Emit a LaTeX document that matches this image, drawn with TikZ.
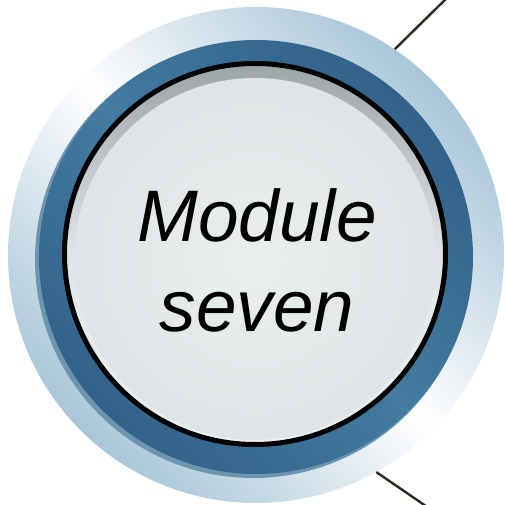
\documentclass[tikz,border=0pt]{standalone}
\usepackage{fontspec}
\setmainfont{Liberation Sans}
\usepackage{xcolor}
\usetikzlibrary{positioning}

\definecolor{rimblue}{HTML}{A9C6D8}
\definecolor{ringdark}{HTML}{32628A}
\definecolor{ringlight}{HTML}{437BA1}
\definecolor{ringedge}{HTML}{6E95B0}
\definecolor{facetop}{HTML}{9EA5A7}
\definecolor{facemid}{HTML}{DFE5E6}
\definecolor{facelow}{HTML}{EEF2F2}
\definecolor{leader}{HTML}{2A2A1E}

\begin{document}
\begin{tikzpicture}[
    x=1pt, y=1pt,
    disc/.style={circle, inner sep=0pt, draw=none},
    word/.style={anchor=base, font=\fontsize{73}{90}\selectfont\itshape},
    leadline/.style={draw=leader, line width=2.4pt}
  ]
    \useasboundingbox (0,0) rectangle (506,505);
    \clip (0,0) rectangle (506,505);

    \coordinate (topend) at (452,512);
    \coordinate (lowend) at (436,-8);

    \node[disc, minimum size=496pt, top color=rimblue, bottom color=rimblue,
      middle color=white, shading angle=-45] (rim) at (256,250) {};
    \draw[leadline] (rim.56) -- (topend);
    \draw[leadline] (rim.-61) -- (lowend);

    % blue ring with its lighter lower edge
    \node[disc, minimum size=436pt, fill=ringedge] (ringedge) at (253,245) {};
    \node[disc, minimum size=434pt, top color=ringdark, bottom color=ringdark,
      middle color=ringlight, shading angle=-45] (ring) at (256,248) {};

    \node[disc, minimum size=380pt, top color=facetop, bottom color=facelow,
      middle color=facemid] (face) at (255,251) {};
    \node[disc, minimum size=362pt, inner color=facelow!70!facemid,
      outer color=facemid] (glow) at (255,246) {};
    \node[circle, inner sep=0pt, minimum size=381pt, draw=black, line width=5pt] (edge) at (255,251) {};

    \node[word] (mod) at (257,263) {Module};
    \node[word] (sev) at ([yshift=-90pt]mod.base) {seven};
  \end{tikzpicture}
\end{document}
